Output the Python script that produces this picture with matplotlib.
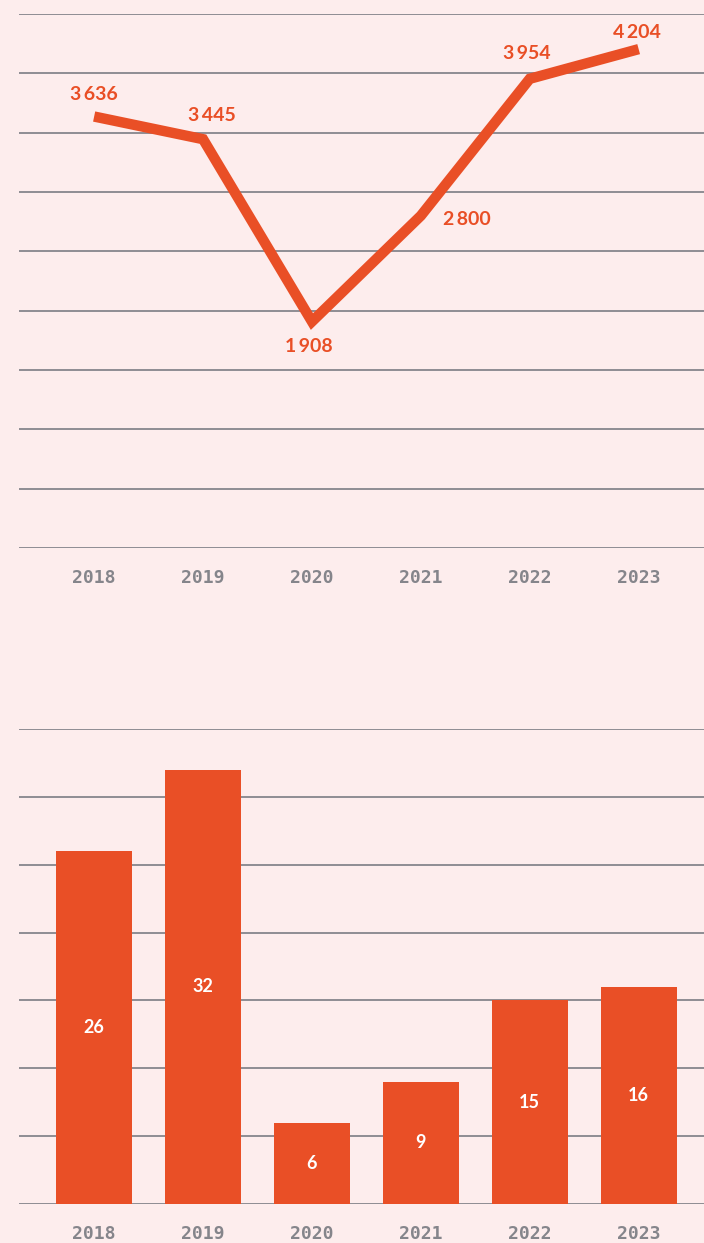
import matplotlib
matplotlib.use("Agg")
import matplotlib.pyplot as plt
import numpy as np

years = ["2018", "2019", "2020", "2021", "2022", "2023"]
line_values = [3636, 3445, 1908, 2800, 3954, 4204]
line_labels = ["3\u2009636", "3\u2009445", "1\u2009908", "2\u2009800", "3\u2009954", "4\u2009204"]
bar_values = [26, 32, 6, 9, 15, 16]

BG = "#fdeded"
ORANGE = "#e94f26"
GRID = "#86858c"
TICK = "#85858b"

W, H = 704, 1243
fig = plt.figure(figsize=(W / 100, H / 100), dpi=100, facecolor=BG)

def frac_box(left, top, right, bottom):
    return [left / W, 1 - bottom / H, (right - left) / W, (bottom - top) / H]

x = np.arange(len(years))

# ---- Line chart ----
ax1 = fig.add_axes(frac_box(19, 14, 704, 548))
ax1.set_facecolor(BG)
ax1.set_ylim(0, 4500)
ax1.set_yticks(np.arange(0, 4501, 500))
ax1.set_xlim(-0.69, 5.6)
ax1.grid(axis="y", color=GRID, linewidth=1.3, zorder=0)
ax1.plot(x, line_values, color=ORANGE, linewidth=7.5, solid_capstyle="butt",
         solid_joinstyle="miter", zorder=3)
offsets = [(0, 16), (6, 17), (-2, -18), (33, -3), (-2, 18), (-1, 12)]
for xi, v, lab, off in zip(x, line_values, line_labels, offsets):
    ax1.annotate(lab, (xi, v), xytext=off, textcoords="offset points",
                 ha="center", va="center", color=ORANGE, fontsize=14,
                 fontweight="bold", family=["Lato", "DejaVu Sans"])

# ---- Bar chart ----
ax2 = fig.add_axes(frac_box(19, 729, 704, 1204))
ax2.set_facecolor(BG)
ax2.set_ylim(0, 35)
ax2.set_yticks(np.arange(0, 36, 5))
ax2.set_xlim(-0.69, 5.6)
ax2.grid(axis="y", color=GRID, linewidth=1.3, zorder=0)
bars = ax2.bar(x, bar_values, width=0.70, color=ORANGE, zorder=3)
ax2.bar_label(bars, labels=[str(v) for v in bar_values], label_type="center",
              color="white", fontsize=13, fontweight="bold",
              family=["Lato", "DejaVu Sans"])

for ax in (ax1, ax2):
    ax.set_axisbelow(True)
    for s in ax.spines.values():
        s.set_visible(False)
    ax.set_xticks(x)
    ax.set_xticklabels(years, family="DejaVu Sans Mono", fontweight="bold",
                       fontsize=13, color=TICK)
    ax.tick_params(axis="x", length=0, pad=15)
    ax.tick_params(axis="y", length=0, labelleft=False)

fig.savefig("out.png", dpi=100, facecolor=BG)
